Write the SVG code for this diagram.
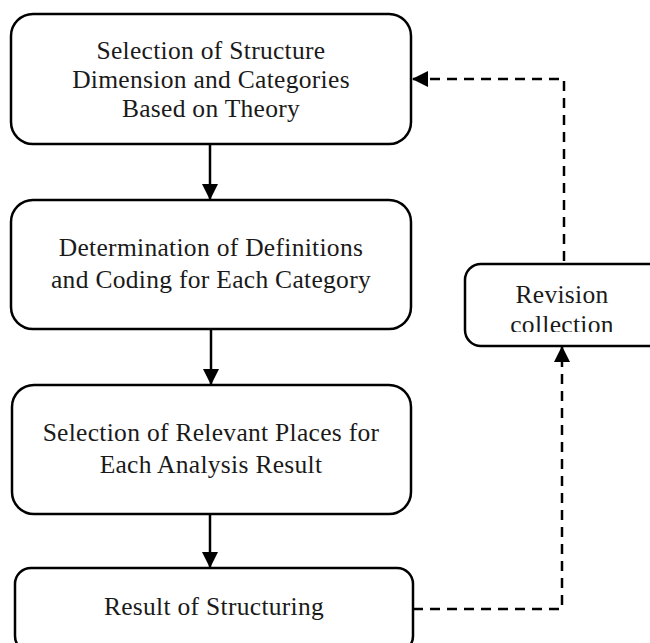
<svg xmlns="http://www.w3.org/2000/svg" width="650" height="643" viewBox="0 0 650 643">
  <style>
    .box { fill: #ffffff; stroke: #000000; stroke-width: 2.5; }
    .lbl { font-family: "Liberation Serif", "Times New Roman", serif; font-size: 25.5px; letter-spacing: 0.3px; fill: #1a1a1a; text-anchor: middle; }
    .conn { fill: none; stroke: #000000; stroke-width: 2.5; }
    .dash { stroke-dasharray: 10 7; }
  </style>
  <defs>
    <marker id="head" markerUnits="userSpaceOnUse" markerWidth="16" markerHeight="16" viewBox="0 0 16 16" refX="16" refY="8" orient="auto">
      <path d="M0,0 L16,8 L0,16 z" fill="#000000" stroke="none"/>
    </marker>
    <clipPath id="revclip">
      <rect x="465" y="264" width="190" height="68"/>
    </clipPath>
  </defs>
  <rect x="0" y="0" width="650" height="643" fill="#ffffff"/>

  <g id="connectors">
    <line class="conn" x1="210" y1="144" x2="210" y2="200" marker-end="url(#head)"/>
    <line class="conn" x1="211" y1="329" x2="211" y2="385" marker-end="url(#head)"/>
    <line class="conn" x1="210" y1="514" x2="210" y2="568" marker-end="url(#head)"/>
    <path class="conn dash" d="M413,609 H562 V346" marker-end="url(#head)"/>
    <path class="conn dash" d="M564,278 V79 H412" marker-end="url(#head)"/>
  </g>

  <g id="node-selection-structure">
    <rect class="box" x="11" y="14" width="400" height="130" rx="22" ry="22"/>
    <text class="lbl" x="211" y="59">Selection of Structure</text>
    <text class="lbl" x="211" y="88">Dimension and Categories</text>
    <text class="lbl" x="211" y="117">Based on Theory</text>
  </g>

  <g id="node-definitions">
    <rect class="box" x="11" y="200" width="400" height="129" rx="22" ry="22"/>
    <text class="lbl" x="211" y="256">Determination of Definitions</text>
    <text class="lbl" x="211" y="288">and Coding for Each Category</text>
  </g>

  <g id="node-relevant-places">
    <rect class="box" x="12" y="385" width="399" height="129" rx="22" ry="22"/>
    <text class="lbl" x="211" y="441">Selection of Relevant Places for</text>
    <text class="lbl" x="211" y="473">Each Analysis Result</text>
  </g>

  <g id="node-result">
    <rect class="box" x="15" y="568" width="398" height="84" rx="16" ry="16"/>
    <text class="lbl" x="214" y="615">Result of Structuring</text>
  </g>

  <g id="node-revision">
    <rect class="box" x="465" y="264" width="200" height="82" rx="16" ry="16"/>
    <g clip-path="url(#revclip)">
      <text class="lbl" x="562" y="303">Revision</text>
      <text class="lbl" x="562" y="333">collection</text>
    </g>
  </g>
</svg>
